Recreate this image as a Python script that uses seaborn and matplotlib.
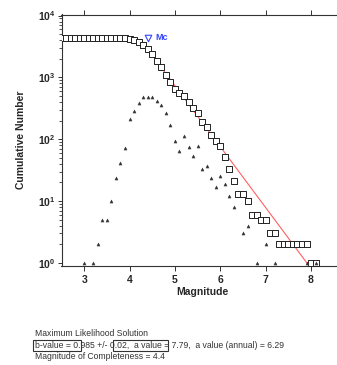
import numpy as np
import pandas as pd
import matplotlib
matplotlib.use("Agg")
import matplotlib.pyplot as plt
import seaborn as sns
from matplotlib.patches import Rectangle
from matplotlib.ticker import LogLocator, FixedLocator, FuncFormatter, NullFormatter

# ---------------- data ----------------
cum_mag = [2.5, 2.6, 2.7, 2.8, 2.9, 3.0, 3.1, 3.2, 3.3, 3.4, 3.5, 3.6, 3.7, 3.8, 3.9,
           4.0, 4.1, 4.2, 4.3, 4.4, 4.5, 4.6, 4.7, 4.8, 4.9, 5.0, 5.1, 5.2, 5.3, 5.4,
           5.5, 5.6, 5.7, 5.8, 5.9, 6.0, 6.1, 6.2, 6.3, 6.4, 6.5, 6.6, 6.7, 6.8, 6.9,
           7.0, 7.1, 7.2, 7.3, 7.4, 7.5, 7.6, 7.7, 7.8, 7.9, 8.0, 8.1]
cum_num = [4366, 4366, 4366, 4366, 4366, 4366, 4365, 4365, 4364, 4362, 4357, 4352, 4342, 4318, 4277,
           4205, 3992, 3702, 3312, 2832, 2352, 1872, 1457, 1102, 832, 660, 568, 504, 393, 319,
           265, 188, 155, 118, 94, 77, 52, 33, 21, 13, 13, 10, 6, 6, 5,
           5, 3, 3, 2, 2, 2, 2, 2, 2, 2, 1, 1]

inc_mag = [3.0, 3.2, 3.3, 3.4, 3.5, 3.6, 3.7, 3.8, 3.9, 4.0, 4.1, 4.2, 4.3, 4.4, 4.5,
           4.6, 4.7, 4.8, 4.9, 5.0, 5.1, 5.2, 5.3, 5.4, 5.5, 5.6, 5.7, 5.8, 5.9, 6.0,
           6.1, 6.2, 6.3, 6.5, 6.6, 6.8, 7.0, 7.2, 7.9, 8.1]
inc_num = [1, 1, 2, 5, 5, 10, 24, 41, 72, 213, 290, 390, 480, 480, 480,
           415, 355, 270, 172, 92, 64, 111, 74, 54, 77, 33, 37, 24, 17, 25,
           19, 12, 8, 3, 4, 1, 2, 1, 1, 1]

b_value = 0.985
b_err = 0.02
a_value = 7.79
a_annual = 6.29
mc = 4.4
mc_marker_y = 4366

x_ticks = [3, 4, 5, 6, 7, 8]
y_exps = [0, 1, 2, 3, 4]

# fitted Gutenberg-Richter line from Mc to N=1
fit_mag = [mc, a_value / b_value]
fit_num = [10 ** (a_value - b_value * m) for m in fit_mag]

cum_df = pd.DataFrame({"mag": cum_mag, "num": cum_num})
inc_df = pd.DataFrame({"mag": inc_mag, "num": inc_num})
fit_df = pd.DataFrame({"mag": fit_mag, "num": fit_num})

# ---------------- style ----------------
sns.set_theme(style="white")
plt.rcParams["font.family"] = ["Liberation Sans", "DejaVu Sans"]
plt.rcParams["mathtext.fontset"] = "custom"
plt.rcParams["mathtext.rm"] = "Liberation Sans"
plt.rcParams["mathtext.bf"] = "Liberation Sans:bold"

fig = plt.figure(figsize=(3.37, 3.65), dpi=100)
ax = fig.add_axes([61.5 / 337, 1 - 265.5 / 365, (342.8 - 61.5) / 337, (265.5 - 14.5) / 365])

sns.lineplot(data=fit_df, x="mag", y="num", ax=ax, color="#ff6060", lw=0.8, zorder=2)
sns.scatterplot(data=cum_df, x="mag", y="num", ax=ax, marker="s", s=16,
                facecolor="white", edgecolor="#222222", linewidth=0.7, zorder=3)
sns.scatterplot(data=inc_df, x="mag", y="num", ax=ax, marker="^", s=5,
                color="#333333", edgecolor="#333333", linewidth=0.3, zorder=4)

ax.scatter([mc], [mc_marker_y], marker="v", s=22, facecolor="white",
           edgecolor="#3344ff", linewidth=0.8, zorder=5)
ax.text(4.58, mc_marker_y, "Mc", color="#3344ff", fontsize=6.5, fontweight="bold",
        va="center", ha="left")

ax.set_yscale("log")
ax.set_xlim(2.5, 8.7)
ax.set_ylim(0.91, 10400)

ax.xaxis.set_major_locator(FixedLocator(x_ticks))
ax.set_xticklabels([str(t) for t in x_ticks], fontsize=7.5, fontweight="bold")
ax.yaxis.set_major_locator(FixedLocator([10 ** e for e in y_exps]))
ax.yaxis.set_major_formatter(FuncFormatter(lambda v, p: r"$\mathbf{10^{%d}}$" % round(np.log10(v))))
ax.yaxis.set_minor_locator(LogLocator(base=10, subs=np.arange(2, 10), numticks=20))
ax.yaxis.set_minor_formatter(NullFormatter())
for lab in ax.get_yticklabels():
    lab.set_fontsize(7.5)

ax.tick_params(axis="x", which="major", direction="out", length=3.5, width=0.7,
               top=True, bottom=True, color="#333333", pad=3)
ax.tick_params(axis="y", which="major", direction="out", length=3, width=0.7,
               left=True, color="#333333", pad=1.5)
ax.tick_params(axis="y", which="minor", direction="out", length=2, width=0.6,
               left=True, color="#333333")

for side in ["left", "bottom", "top"]:
    ax.spines[side].set_visible(True)
    ax.spines[side].set_color("#333333")
    ax.spines[side].set_linewidth(0.8)
ax.spines["right"].set_visible(False)

ax.set_xlabel("Magnitude", fontsize=7.5, fontweight="bold", labelpad=2)
ax.set_ylabel("Cumulative Number", fontsize=7.5, fontweight="bold", labelpad=8)

# ---------------- text block ----------------
def fx(px):
    return px / 337

def fy(py):
    return 1 - py / 365

fs = 6.2
fig.text(fx(35), fy(333), "Maximum Likelihood Solution", fontsize=fs, va="center", ha="left", color="#333333")
fig.text(fx(35), fy(345),
         "b-value = %.3f +/- %.2f,  a value = %.2f,  a value (annual) = %.2f" % (b_value, b_err, a_value, a_annual),
         fontsize=fs, va="center", ha="left", color="#333333")
fig.text(fx(35), fy(356.5), "Magnitude of Completeness = %.1f" % mc, fontsize=fs, va="center", ha="left", color="#333333")

for (x0, x1) in [(33, 81), (113, 168)]:
    fig.patches.append(Rectangle((fx(x0), fy(350.5)), fx(x1) - fx(x0), fy(340) - fy(350.5),
                                 transform=fig.transFigure, fill=False, edgecolor="#333333", lw=0.8))

fig.savefig("out.png", dpi=100)
